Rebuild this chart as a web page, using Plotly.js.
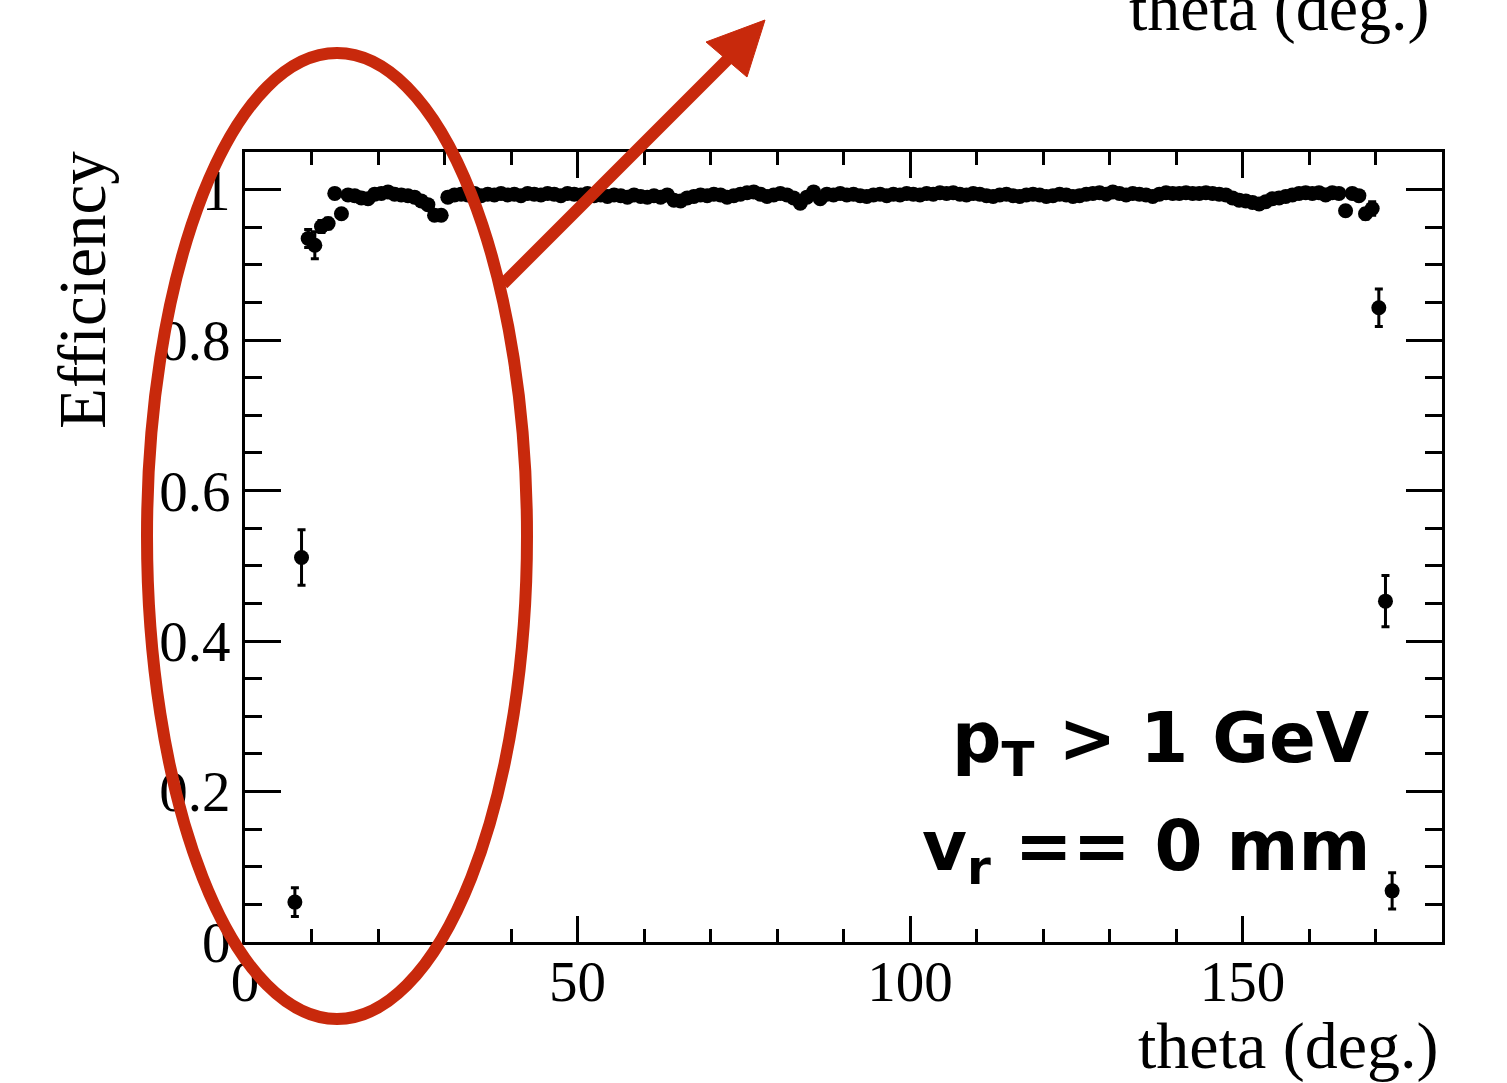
<!DOCTYPE html>
<html>
<head>
<meta charset="utf-8">
<script src="https://cdn.plot.ly/plotly-3.0.1.min.js"></script>
<style>html,body{margin:0;padding:0;background:#fff;}#chart{width:1507px;height:1083px;}</style>
</head>
<body>
<div id="chart"></div>
<script>
// Bin centres (theta, degrees)
const theta = [
  7.5, 8.5, 9.5, 10.5, 11.5, 12.5, 13.5, 14.5, 15.5, 16.5,
  17.5, 18.5, 19.5, 20.5, 21.5, 22.5, 23.5, 24.5, 25.5, 26.5,
  27.5, 28.5, 29.5, 30.5, 31.5, 32.5, 33.5, 34.5, 35.5, 36.5,
  37.5, 38.5, 39.5, 40.5, 41.5, 42.5, 43.5, 44.5, 45.5, 46.5,
  47.5, 48.5, 49.5, 50.5, 51.5, 52.5, 53.5, 54.5, 55.5, 56.5,
  57.5, 58.5, 59.5, 60.5, 61.5, 62.5, 63.5, 64.5, 65.5, 66.5,
  67.5, 68.5, 69.5, 70.5, 71.5, 72.5, 73.5, 74.5, 75.5, 76.5,
  77.5, 78.5, 79.5, 80.5, 81.5, 82.5, 83.5, 84.5, 85.5, 86.5,
  87.5, 88.5, 89.5, 90.5, 91.5, 92.5, 93.5, 94.5, 95.5, 96.5,
  97.5, 98.5, 99.5, 100.5, 101.5, 102.5, 103.5, 104.5, 105.5, 106.5,
  107.5, 108.5, 109.5, 110.5, 111.5, 112.5, 113.5, 114.5, 115.5, 116.5,
  117.5, 118.5, 119.5, 120.5, 121.5, 122.5, 123.5, 124.5, 125.5, 126.5,
  127.5, 128.5, 129.5, 130.5, 131.5, 132.5, 133.5, 134.5, 135.5, 136.5,
  137.5, 138.5, 139.5, 140.5, 141.5, 142.5, 143.5, 144.5, 145.5, 146.5,
  147.5, 148.5, 149.5, 150.5, 151.5, 152.5, 153.5, 154.5, 155.5, 156.5,
  157.5, 158.5, 159.5, 160.5, 161.5, 162.5, 163.5, 164.5, 165.5, 166.5,
  167.5, 168.5, 169.5, 170.5, 171.5, 172.5
];

// Efficiency per bin
const efficiency = [
  0.053, 0.511, 0.935, 0.926, 0.951, 0.955, 0.995, 0.968, 0.993, 0.992,
  0.989, 0.988, 0.994, 0.995, 0.997, 0.994, 0.993, 0.992, 0.990, 0.985,
  0.980, 0.966, 0.966, 0.990, 0.993, 0.994, 0.993, 0.995, 0.992, 0.994,
  0.993, 0.995, 0.993, 0.994, 0.992, 0.995, 0.994, 0.993, 0.995, 0.994,
  0.992, 0.995, 0.994, 0.993, 0.995, 0.992, 0.993, 0.991, 0.993, 0.992,
  0.990, 0.993, 0.991, 0.990, 0.992, 0.990, 0.993, 0.986, 0.985, 0.989,
  0.991, 0.993, 0.992, 0.994, 0.993, 0.990, 0.992, 0.994, 0.996, 0.997,
  0.994, 0.991, 0.993, 0.995, 0.993, 0.989, 0.982, 0.990, 0.997, 0.988,
  0.994, 0.993, 0.995, 0.993, 0.994, 0.992, 0.991, 0.993, 0.994, 0.992,
  0.994, 0.993, 0.995, 0.994, 0.993, 0.995, 0.994, 0.996, 0.995, 0.996,
  0.994, 0.993, 0.995, 0.994, 0.992, 0.991, 0.993, 0.994, 0.992, 0.991,
  0.993, 0.994, 0.993, 0.991, 0.992, 0.994, 0.993, 0.991, 0.992, 0.994,
  0.995, 0.996, 0.994, 0.997, 0.995, 0.993, 0.995, 0.994, 0.993, 0.991,
  0.994, 0.996, 0.995, 0.995, 0.996, 0.995, 0.995, 0.996, 0.995, 0.994,
  0.993, 0.989, 0.986, 0.985, 0.983, 0.981, 0.984, 0.988, 0.989, 0.991,
  0.993, 0.995, 0.996, 0.995, 0.996, 0.993, 0.996, 0.995, 0.972, 0.995,
  0.992, 0.968, 0.975, 0.843, 0.453, 0.068
];

// Statistical uncertainty per bin
const efficiencyErr = [
  0.019, 0.037, 0.012, 0.018, 0.008, 0.007, 0.003, 0.005, 0.003, 0.003,
  0.003, 0.003, 0.003, 0.003, 0.003, 0.003, 0.003, 0.003, 0.003, 0.003,
  0.004, 0.005, 0.005, 0.003, 0.003, 0.003, 0.003, 0.003, 0.003, 0.003,
  0.003, 0.003, 0.003, 0.003, 0.003, 0.003, 0.003, 0.003, 0.003, 0.003,
  0.003, 0.003, 0.003, 0.003, 0.003, 0.003, 0.003, 0.003, 0.003, 0.003,
  0.003, 0.003, 0.003, 0.003, 0.003, 0.003, 0.003, 0.003, 0.003, 0.003,
  0.003, 0.003, 0.003, 0.003, 0.003, 0.003, 0.003, 0.003, 0.003, 0.003,
  0.003, 0.003, 0.003, 0.003, 0.003, 0.003, 0.004, 0.003, 0.003, 0.003,
  0.003, 0.003, 0.003, 0.003, 0.003, 0.003, 0.003, 0.003, 0.003, 0.003,
  0.003, 0.003, 0.003, 0.003, 0.003, 0.003, 0.003, 0.003, 0.003, 0.003,
  0.003, 0.003, 0.003, 0.003, 0.003, 0.003, 0.003, 0.003, 0.003, 0.003,
  0.003, 0.003, 0.003, 0.003, 0.003, 0.003, 0.003, 0.003, 0.003, 0.003,
  0.003, 0.003, 0.003, 0.003, 0.003, 0.003, 0.003, 0.003, 0.003, 0.003,
  0.003, 0.003, 0.003, 0.003, 0.003, 0.003, 0.003, 0.003, 0.003, 0.003,
  0.003, 0.004, 0.004, 0.004, 0.004, 0.004, 0.003, 0.003, 0.003, 0.003,
  0.003, 0.003, 0.003, 0.003, 0.003, 0.003, 0.003, 0.003, 0.006, 0.003,
  0.003, 0.007, 0.009, 0.025, 0.034, 0.024
];

const xTickVals = [0, 50, 100, 150];
const xTickText = ["0", "50", "100", "150"];
const yTickVals = [0, 0.2, 0.4, 0.6, 0.8, 1];
const yTickText = ["0", "0.2", "0.4", "0.6", "0.8", "1"];

// plot area in pixels (for decorations)
const L = 245, R = 1442, T = 152, B = 942;
const px = v => (v - L) / (R - L);
const py = v => (B - v) / (B - T);

const red = '#c8290c';
const serif = 'Liberation Serif, Times New Roman, serif';
const sans = 'DejaVu Sans, Open Sans, sans-serif';

const trace = {
  type: 'scatter', mode: 'markers',
  x: theta, y: efficiency,
  error_y: {type: 'data', array: efficiencyErr, visible: true, color: '#000', thickness: 3, width: 4},
  marker: {color: '#000', size: 15, symbol: 'circle'},
  showlegend: false, hoverinfo: 'x+y'
};

const axisCommon = {
  showgrid: false, zeroline: false, showline: true, linecolor: '#000', linewidth: 3,
  mirror: 'allticks', ticks: 'inside', tickcolor: '#000', tickwidth: 3,
  tickfont: {family: serif, size: 57, color: '#000'}, fixedrange: true
};

const layout = {
  width: 1507, height: 1083,
  margin: {l: L, r: 1507 - R, t: T, b: 1083 - B, pad: 0},
  paper_bgcolor: '#fff', plot_bgcolor: '#fff',
  xaxis: Object.assign({}, axisCommon, {
    range: [0, 180], tickmode: 'array', tickvals: xTickVals, ticktext: xTickText, ticklen: 26,
    ticklabelstandoff: -12,
    minor: {dtick: 10, tick0: 0, ticks: 'inside', ticklen: 13, tickwidth: 3, tickcolor: '#000', showgrid: false}
  }),
  yaxis: Object.assign({}, axisCommon, {
    range: [0, 1.05], tickmode: 'array', tickvals: yTickVals, ticktext: yTickText, ticklen: 36,
    minor: {dtick: 0.05, tick0: 0, ticks: 'inside', ticklen: 17, tickwidth: 3, tickcolor: '#000', showgrid: false}
  }),
  annotations: [
    {xref: 'paper', yref: 'paper', x: px(1441), y: py(1046), xanchor: 'right', yanchor: 'middle',
     text: 'theta (deg.)', showarrow: false, font: {family: serif, size: 66, color: '#000'}},
    {xref: 'paper', yref: 'paper', x: px(1432), y: py(8), xanchor: 'right', yanchor: 'middle',
     text: 'theta (deg.)', showarrow: false, font: {family: serif, size: 66, color: '#000'}},
    {xref: 'paper', yref: 'paper', x: px(82), y: py(290), xanchor: 'center', yanchor: 'middle', textangle: -90,
     text: 'Efficiency', showarrow: false, font: {family: serif, size: 67, color: '#000'}},
    {xref: 'paper', yref: 'paper', x: px(1372), y: py(742), xanchor: 'right', yanchor: 'middle',
     text: '<b>p<sub>T</sub> &gt; 1 GeV</b>', showarrow: false, font: {family: sans, size: 69, color: '#000'}},
    {xref: 'paper', yref: 'paper', x: px(1372), y: py(850), xanchor: 'right', yanchor: 'middle',
     text: '<b>v<sub>r</sub> == 0 mm</b>', showarrow: false, font: {family: sans, size: 69, color: '#000'}}
  ],
  shapes: [
    {type: 'circle', xref: 'paper', yref: 'paper', layer: 'above',
     x0: px(147), x1: px(527), y0: py(1019), y1: py(53), line: {color: red, width: 12}},
    {type: 'line', xref: 'paper', yref: 'paper', layer: 'above',
     x0: px(503), y0: py(284), x1: px(730), y1: py(57), line: {color: red, width: 12}},
    {type: 'path', xref: 'paper', yref: 'paper', layer: 'above',
     path: 'M ' + px(765) + ' ' + py(20) + ' L ' + px(706) + ' ' + py(42) + ' L ' + px(747) + ' ' + py(77) + ' Z',
     fillcolor: red, line: {color: red, width: 1}}
  ]
};

Plotly.newPlot('chart', [trace], layout, {displayModeBar: false, staticPlot: true});
</script>
</body>
</html>
